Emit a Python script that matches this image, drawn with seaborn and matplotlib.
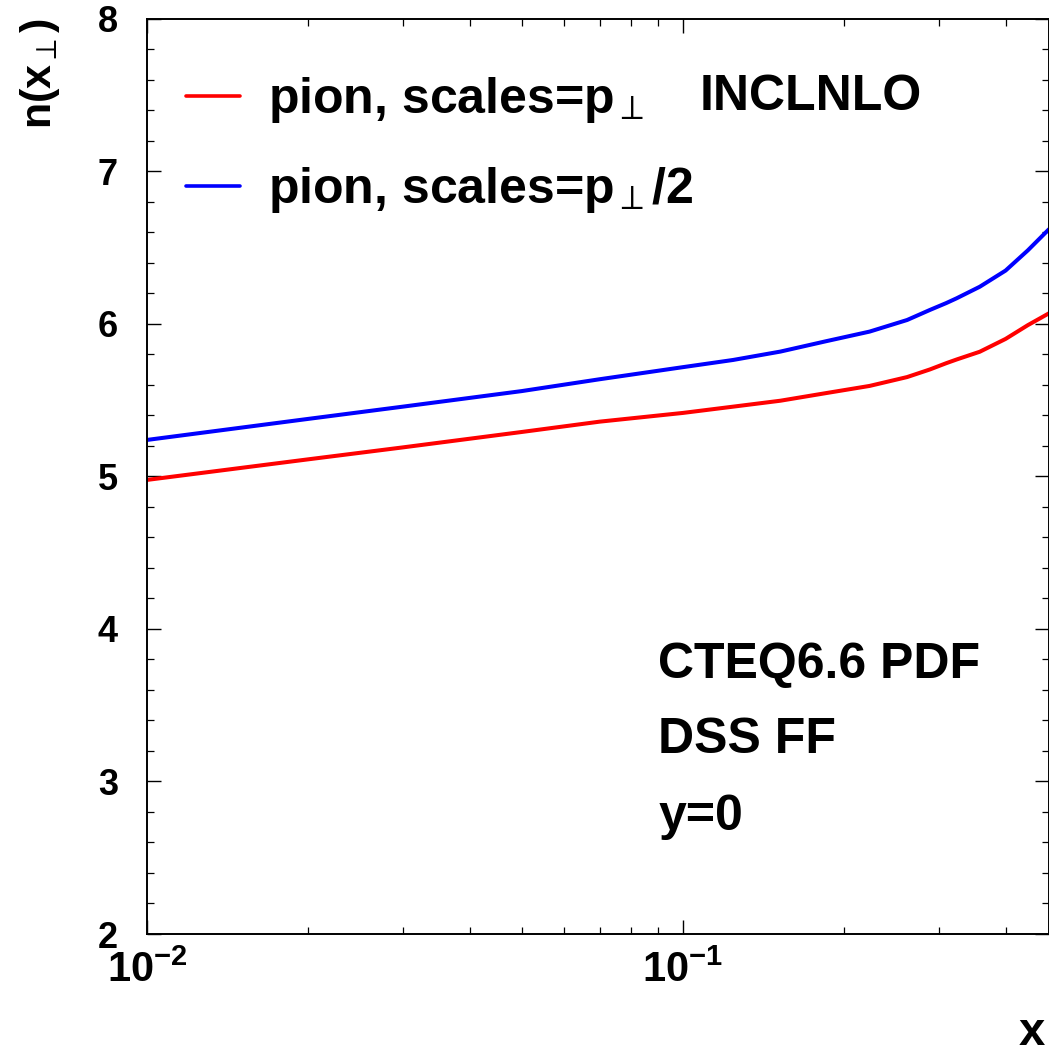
import numpy as np
import pandas as pd
import matplotlib
matplotlib.use("Agg")
import matplotlib.pyplot as plt
from matplotlib.ticker import MultipleLocator, LogLocator, NullFormatter
import seaborn as sns

# ---- data ----
x_vals = [0.01, 0.02, 0.03, 0.05, 0.07, 0.10, 0.124, 0.152, 0.185, 0.223,
          0.262, 0.289, 0.31, 0.324, 0.358, 0.40, 0.44, 0.482]
n_pt = [4.976, 5.111, 5.189, 5.290, 5.358, 5.415, 5.456, 5.495, 5.545, 5.592,
        5.650, 5.700, 5.741, 5.765, 5.816, 5.900, 5.990, 6.068]
n_pt2 = [5.238, 5.376, 5.456, 5.558, 5.636, 5.715, 5.762, 5.817, 5.885, 5.948,
         6.024, 6.090, 6.135, 6.166, 6.242, 6.348, 6.480, 6.619]
labels = [r"pion, scales=p$_{\perp}$", r"pion, scales=p$_{\perp}$/2"]
colors = ["#ff0000", "#0000ff"]
y_ticks = [2, 3, 4, 5, 6, 7, 8]
notes = ["CTEQ6.6 PDF", "DSS FF", "y=0"]

df = pd.DataFrame({
    "x": x_vals * 2,
    "n": n_pt + n_pt2,
    "series": [labels[0]] * len(x_vals) + [labels[1]] * len(x_vals),
})

sns.set_theme(style="ticks")
plt.rcParams["font.family"] = ["Liberation Sans", "DejaVu Sans"]
plt.rcParams["mathtext.fontset"] = "stix"
plt.rcParams["mathtext.default"] = "rm"
for k in ["text.color", "axes.labelcolor", "xtick.color", "ytick.color", "axes.edgecolor"]:
    plt.rcParams[k] = "black"

W, H = 1049, 1054
fig = plt.figure(figsize=(W / 100, H / 100), dpi=100)
L, R, T, B = 147, 1048.5, 18.5, 934
ax = fig.add_axes([L / W, 1 - B / H, (R - L) / W, (B - T) / H])

sns.lineplot(data=df, x="x", y="n", hue="series", hue_order=labels,
             palette=dict(zip(labels, colors)), linewidth=2.9, ax=ax,
             legend=True)

ax.set_xscale("log")
ax.set_xlim(0.01, 0.481)
ax.set_ylim(2, 8)
ax.set_yticks(y_ticks)
ax.yaxis.set_minor_locator(MultipleLocator(0.2))
ax.xaxis.set_minor_locator(LogLocator(base=10, subs=np.arange(2, 10), numticks=20))
ax.xaxis.set_minor_formatter(NullFormatter())
ax.set_xlabel("")
ax.set_ylabel("")

for s in ax.spines.values():
    s.set_visible(True)
    s.set_linewidth(1.4)
    s.set_color("black")

ax.tick_params(which="both", direction="in", top=True, right=True, color="black")
ax.tick_params(which="major", length=10, width=1.0, pad=21)
ax.tick_params(which="minor", length=5, width=0.9)
ax.tick_params(axis="y", which="major", labelsize=26)
ax.tick_params(axis="x", which="major", pad=12, labelsize=30)
fig.canvas.draw()
for lab in ax.get_xticklabels() + ax.get_yticklabels():
    lab.set_fontweight("bold")

handles, labs = ax.get_legend_handles_labels()
leg = ax.legend(handles, labs, loc="upper left", bbox_to_anchor=(0.043, 0.938),
                frameon=False, borderpad=0, borderaxespad=0,
                handlelength=1.08, handletextpad=0.56, labelspacing=0.8,
                prop={"size": 36, "weight": "bold"})
for line in leg.get_lines():
    line.set_linewidth(2.6)

ax.text(0.613, 0.914, "INCLNLO", transform=ax.transAxes, fontsize=36,
        fontweight="bold", ha="left", va="center")

for txt, yb in zip(notes, [0.2796, 0.1977, 0.1136]):
    ax.text(0.567, yb, txt, transform=ax.transAxes, fontsize=36,
            fontweight="bold", ha="left", va="baseline")

fig.text(40 / W, 1 - 18 / H, r"n(x$_{\perp}$)", rotation=90, ha="center",
         va="top", fontsize=31, fontweight="bold")
fig.text(1018 / W, 1 - 1045 / H, r"x$_{\perp}$", ha="left", va="baseline",
         fontsize=34, fontweight="bold")

fig.savefig("out.png", dpi=100)
